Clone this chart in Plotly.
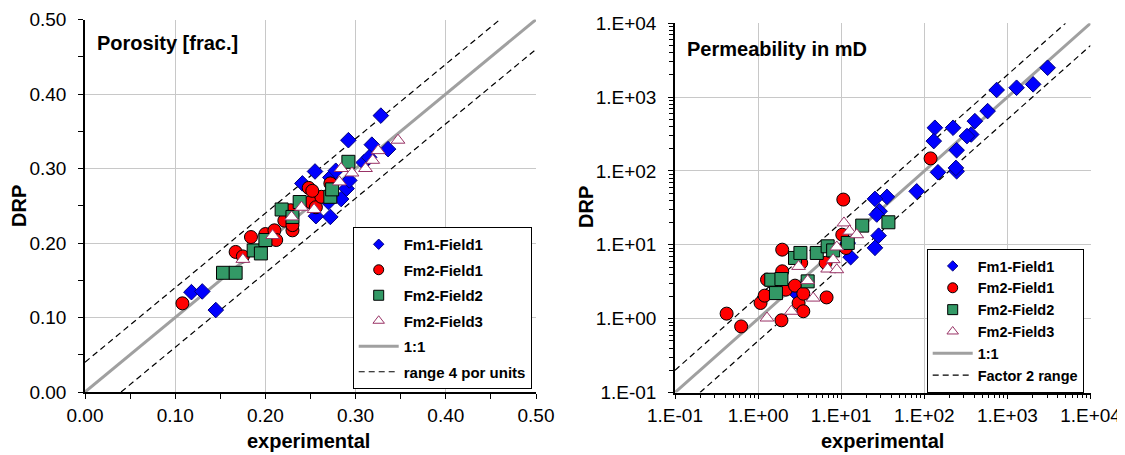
import plotly.graph_objects as go

# ---------------- Porosity (left) ----------------
por_fm1_x = [0.118, 0.130, 0.145, 0.328, 0.292, 0.318, 0.336, 0.309, 0.255, 0.241, 0.272, 0.278,
             0.290, 0.284, 0.272, 0.256, 0.270, 0.293, 0.315]
por_fm1_y = [0.134, 0.135, 0.110, 0.371, 0.338, 0.332, 0.326, 0.308, 0.296, 0.280, 0.288, 0.297,
             0.273, 0.259, 0.235, 0.236, 0.255, 0.284, 0.315]

por_fm2f1_x = [0.108, 0.167, 0.175, 0.184, 0.200, 0.210, 0.212, 0.221, 0.230, 0.230, 0.228, 0.248,
               0.250, 0.256, 0.262, 0.272, 0.252]
por_fm2f1_y = [0.119, 0.188, 0.182, 0.208, 0.212, 0.217, 0.204, 0.230, 0.217, 0.224, 0.244, 0.274,
               0.255, 0.248, 0.262, 0.280, 0.270]

por_fm2f2_x = [0.153, 0.167, 0.187, 0.195, 0.200, 0.218, 0.230, 0.238, 0.272, 0.292, 0.274]
por_fm2f2_y = [0.160, 0.160, 0.190, 0.186, 0.204, 0.245, 0.235, 0.255, 0.262, 0.309, 0.272]

por_fm2f3_x = [0.175, 0.208, 0.229, 0.240, 0.254, 0.282, 0.284, 0.296, 0.311, 0.319, 0.325, 0.347]
por_fm2f3_y = [0.178, 0.210, 0.235, 0.248, 0.245, 0.282, 0.300, 0.294, 0.300, 0.311, 0.324, 0.338]

por_line_x = [0.0, 0.5]
por_line_y = [0.0, 0.5]
por_upper_x = [0.0, 0.46]
por_upper_y = [0.04, 0.50]
por_lower_x = [0.04, 0.50]
por_lower_y = [0.0, 0.46]

por_ticks = [0.0, 0.1, 0.2, 0.3, 0.4, 0.5]
por_ticktext = ["0.00", "0.10", "0.20", "0.30", "0.40", "0.50"]

# ---------------- Permeability (right) ----------------
perm_fm1_x = [3050, 2040, 1290, 743, 578, 406, 367, 326, 134, 222, 130, 245, 146, 245, 240, 81,
              35.5, 25.5, 29, 26.8, 28.2, 25.5, 13, 12, 2.8]
perm_fm1_y = [2500, 1490, 1340, 1250, 647, 473, 312, 297, 385, 385, 254, 191, 96, 99, 110, 53,
              44.6, 41.9, 28.5, 25.7, 13.3, 9.1, 6.8, 10.6, 2.27]

perm_fm2f1_x = [0.418, 0.625, 1.07, 1.2, 1.28, 1.95, 1.95, 2.16, 1.91, 2.78, 3.07, 3.5, 3.5, 3.3,
                6.67, 10.6, 10.3, 11.4, 119, 6.5]
perm_fm2f1_y = [1.17, 0.785, 1.63, 2.05, 3.37, 8.6, 4.38, 2.47, 0.95, 2.8, 1.63, 1.26, 2.18, 5.7,
                1.94, 41, 13.7, 9.06, 148, 5.7]

perm_fm2f2_x = [1.44, 1.91, 1.64, 2.78, 3.23, 5.08, 6.87, 8.0, 3.95, 12, 17.9, 37]
perm_fm2f2_y = [3.37, 3.44, 2.22, 6.64, 7.76, 7.76, 9.55, 8.4, 3.2, 10.6, 18.2, 20.2]

perm_fm2f3_x = [1.28, 2.51, 3.07, 3.95, 4.6, 6.87, 8.85, 8.0, 8.85, 10.8, 12.6, 15.4]
perm_fm2f3_y = [1.02, 1.26, 5.1, 3.27, 1.9, 4.7, 4.6, 6.3, 9.35, 19.8, 15.3, 13.7]

perm_line_x = [0.1, 10000]
perm_line_y = [0.1, 10000]
perm_upper_x = [0.1, 5000]
perm_upper_y = [0.2, 10000]
perm_lower_x = [0.2, 10000]
perm_lower_y = [0.1, 5000]

perm_ticks = [0.1, 1, 10, 100, 1000, 10000]
perm_ticktext = ["1.E-01", "1.E+00", "1.E+01", "1.E+02", "1.E+03", "1.E+04"]
perm_minor = [m * d for d in [0.1, 1, 10, 100, 1000] for m in range(2, 10)]

FONT = "Arial, Liberation Sans, sans-serif"
PAGE_MARGIN = 8          # default body margin of the html page (figure starts at 8,8)
W, H = 1125 - PAGE_MARGIN, 455 - PAGE_MARGIN


def px(x):
    return (x - PAGE_MARGIN) / W


def py(y):
    return 1 - (y - PAGE_MARGIN) / H


fig = go.Figure()

# name, symbol, plot size, legend size, fill, edge
series = [
    ("Fm1-Field1", "diamond", 12, 8, "#0000FF", "#000080"),
    ("Fm2-Field1", "circle", 13, 10, "#FF0000", "#000000"),
    ("Fm2-Field2", "square", 13, 10, "#339966", "#000000"),
    ("Fm2-Field3", "triangle-up", 12, 10, "#FFFFFF", "#993366"),
]

for panel in ["left", "right"]:
    if panel == "left":
        xa, ya, lg = "x", "y", "legend"
        lines = [(por_line_x, por_line_y), (por_upper_x, por_upper_y), (por_lower_x, por_lower_y)]
        data = [(por_fm1_x, por_fm1_y), (por_fm2f1_x, por_fm2f1_y),
                (por_fm2f2_x, por_fm2f2_y), (por_fm2f3_x, por_fm2f3_y)]
        band_name = "range 4 por units"
    else:
        xa, ya, lg = "x2", "y2", "legend2"
        lines = [(perm_line_x, perm_line_y), (perm_upper_x, perm_upper_y), (perm_lower_x, perm_lower_y)]
        data = [(perm_fm1_x, perm_fm1_y), (perm_fm2f1_x, perm_fm2f1_y),
                (perm_fm2f2_x, perm_fm2f2_y), (perm_fm2f3_x, perm_fm2f3_y)]
        band_name = "Factor 2 range"

    fig.add_trace(go.Scatter(x=lines[0][0], y=lines[0][1], mode="lines", name="1:1",
                             line=dict(color="#A0A0A0", width=3), xaxis=xa, yaxis=ya,
                             legend=lg, legendrank=5, legendgroup=panel + "g5"))
    for k, (lx, ly) in enumerate(lines[1:]):
        fig.add_trace(go.Scatter(x=lx, y=ly, mode="lines", name=band_name,
                                 line=dict(color="black", width=1.2, dash="6px,4px"),
                                 xaxis=xa, yaxis=ya, legend=lg, legendrank=6,
                                 legendgroup=panel + "g6", showlegend=(k == 0)))
    for i, ((name, sym, size, lsize, fill, edge), (dx, dy)) in enumerate(zip(series, data)):
        grp = panel + "g%d" % (i + 1)
        fig.add_trace(go.Scatter(x=dx, y=dy, mode="markers", name=name,
                                 marker=dict(symbol=sym, size=size, color=fill,
                                             line=dict(color=edge, width=1)),
                                 xaxis=xa, yaxis=ya, legend=lg, legendrank=i + 1,
                                 legendgroup=grp, showlegend=False, cliponaxis=False))
        # legend entry (smaller symbol, as in the original legend)
        fig.add_trace(go.Scatter(x=[None], y=[None], mode="markers", name=name,
                                 marker=dict(symbol=sym, size=lsize, color=fill,
                                             line=dict(color=edge, width=1)),
                                 xaxis=xa, yaxis=ya, legend=lg, legendrank=i + 1,
                                 legendgroup=grp, showlegend=True))

axis_common = dict(
    showline=True, linecolor="black", linewidth=1.5, mirror=False,
    showgrid=True, gridcolor="#C8C8C8", gridwidth=1.3,
    ticks="outside", ticklen=5, tickcolor="black", tickwidth=1,
    tickfont=dict(family=FONT, size=19, color="black"),
    zeroline=False, automargin=False,
)

legend_common = dict(
    xanchor="left", yanchor="top", bordercolor="black", borderwidth=1, bgcolor="white",
    itemsizing="trace", traceorder="grouped", itemwidth=40,
)

fig.update_layout(
    width=W, height=H,
    margin=dict(l=0, r=0, t=0, b=0, autoexpand=False),
    paper_bgcolor="white", plot_bgcolor="white",
    font=dict(family=FONT, color="black"),
    xaxis=dict(axis_common, domain=[px(85), px(536)], range=[0, 0.5], anchor="y",
               tickvals=por_ticks, ticktext=por_ticktext,
               minor=dict(dtick=0.05, ticks="outside", ticklen=5, tickcolor="black", showgrid=False)),
    yaxis=dict(axis_common, domain=[py(392), py(19.5)], range=[0, 0.5], anchor="x",
               tickvals=por_ticks, ticktext=por_ticktext, ticklabelstandoff=8,
               minor=dict(dtick=0.05, ticks="outside", ticklen=5, tickcolor="black", showgrid=False)),
    xaxis2=dict(axis_common, domain=[px(675), px(1090.5)], type="log", range=[-1, 4], anchor="y2",
                tickvals=perm_ticks, ticktext=perm_ticktext,
                minor=dict(tickvals=perm_minor, ticks="outside", ticklen=4, tickcolor="black", showgrid=False)),
    yaxis2=dict(axis_common, domain=[py(392.5), py(23.3)], type="log", range=[-1, 4], anchor="x2",
                tickvals=perm_ticks, ticktext=perm_ticktext, ticklabelstandoff=8,
                minor=dict(tickvals=perm_minor, ticks="outside", ticklen=4, tickcolor="black", showgrid=False)),
    legend=dict(legend_common, x=px(352.7), y=py(227), tracegroupgap=3,
                font=dict(family=FONT, size=15, color="black", weight="bold")),
    legend2=dict(legend_common, x=px(926.7), y=py(249), tracegroupgap=0,
                 font=dict(family=FONT, size=14.5, color="black", weight="bold")),
    showlegend=True,
)

annots = [
    dict(text="Porosity [frac.]", x=px(95), y=py(43), xanchor="left", yanchor="middle", size=20),
    dict(text="Permeability in mD", x=px(685), y=py(49), xanchor="left", yanchor="middle", size=20),
    dict(text="DRP", x=px(19), y=py(206), xanchor="center", yanchor="middle", size=20, angle=-90),
    dict(text="DRP", x=px(586), y=py(207), xanchor="center", yanchor="middle", size=20, angle=-90),
    dict(text="experimental", x=px(309), y=py(441), xanchor="center", yanchor="middle", size=20),
    dict(text="experimental", x=px(882), y=py(441), xanchor="center", yanchor="middle", size=20),
]
for a in annots:
    fig.add_annotation(text=a["text"], x=a["x"], y=a["y"], xref="paper", yref="paper",
                       xanchor=a["xanchor"], yanchor=a["yanchor"], showarrow=False,
                       textangle=a.get("angle", 0),
                       font=dict(family=FONT, size=a["size"], color="black", weight="bold"))

fig.write_html("out.html")
